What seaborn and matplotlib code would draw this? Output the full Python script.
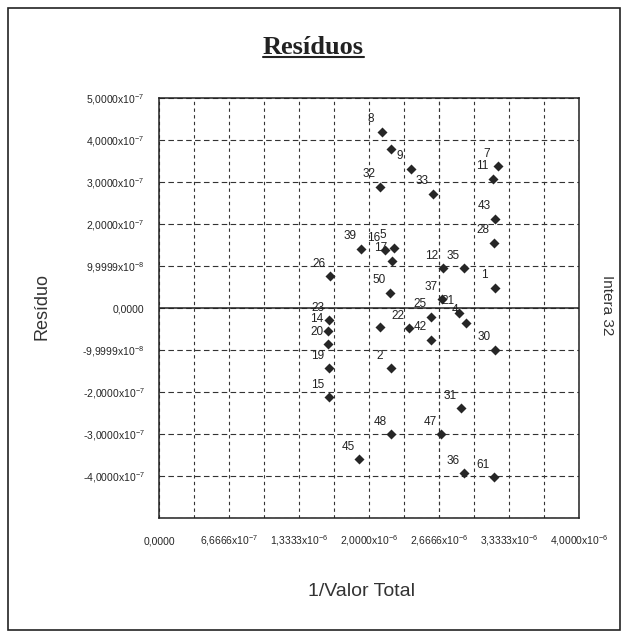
import numpy as np
import pandas as pd
import seaborn as sns
import matplotlib.pyplot as plt
from matplotlib.lines import Line2D
from matplotlib.patches import Rectangle

# point labels, 1/valor total and residual
labels = ["8", "", "9", "32", "33", "7", "11", "43", "28", "39", "16", "5", "17",
          "12", "35", "26", "1", "50", "37", "23", "14", "20", "19", "15", "",
          "22", "25", "21", "4", "42", "30", "2", "31", "48", "47", "45", "36", "61"]
inv_total = [2.124e-6, 2.210e-6, 2.400e-6, 2.105e-6, 2.610e-6, 3.230e-6, 3.180e-6,
             3.200e-6, 3.190e-6, 1.924e-6, 2.148e-6, 2.238e-6, 2.219e-6,
             2.705e-6, 2.905e-6, 1.629e-6, 3.200e-6, 2.200e-6, 2.695e-6,
             1.619e-6, 1.610e-6, 1.610e-6, 1.619e-6, 1.619e-6, 2.105e-6,
             2.381e-6, 2.590e-6, 2.857e-6, 2.924e-6, 2.590e-6, 3.200e-6,
             2.210e-6, 2.876e-6, 2.210e-6, 2.686e-6, 1.905e-6, 2.905e-6, 3.190e-6]
residuals = [4.20e-7, 3.79e-7, 3.32e-7, 2.89e-7, 2.72e-7, 3.37e-7, 3.08e-7,
             2.12e-7, 1.55e-7, 1.41e-7, 1.38e-7, 1.43e-7, 1.12e-7,
             9.5e-8, 9.5e-8, 7.6e-8, 4.8e-8, 3.6e-8, 2.1e-8,
             -2.9e-8, -5.5e-8, -8.6e-8, -1.43e-7, -2.12e-7, -4.5e-8,
             -4.8e-8, -2.1e-8, -1.2e-8, -3.5e-8, -7.6e-8, -1.00e-7,
             -1.43e-7, -2.39e-7, -3.01e-7, -3.01e-7, -3.60e-7, -3.94e-7, -4.03e-7]

x_ticks = [0, 6.6666e-7, 1.3333e-6, 2.0e-6, 2.6666e-6, 3.3333e-6, 4.0e-6]
x_ticklabels = ["0,0000", "6,6666x$10^{-7}$", "1,3333x$10^{-6}$", "2,0000x$10^{-6}$",
                "2,6666x$10^{-6}$", "3,3333x$10^{-6}$", "4,0000x$10^{-6}$"]
y_ticks = [-5e-7, -4e-7, -3e-7, -2e-7, -1e-7, 0, 1e-7, 2e-7, 3e-7, 4e-7, 5e-7]
y_ticklabels = ["", "-4,0000x$10^{-7}$", "-3,0000x$10^{-7}$", "-2,0000x$10^{-7}$",
                "-9,9999x$10^{-8}$", "0,0000", "9,9999x$10^{-8}$", "2,0000x$10^{-7}$",
                "3,0000x$10^{-7}$", "4,0000x$10^{-7}$", "5,0000x$10^{-7}$"]

sns.set_style("white")
plt.rcParams['font.family'] = ['Liberation Sans', 'DejaVu Sans']
plt.rcParams['mathtext.default'] = 'regular'

W, H = 626, 637
fig = plt.figure(figsize=(W / 100, H / 100), dpi=100)
fig.patch.set_facecolor("white")
ax = fig.add_axes([159 / W, 1 - 518 / H, 420 / W, 420 / H])

df = pd.DataFrame({"x": inv_total, "y": residuals, "label": labels})
sns.scatterplot(data=df, x="x", y="y", marker="D", s=26, color="#262626",
                linewidth=0, ax=ax, zorder=3, legend=False)
for _, r in df.iterrows():
    if r["label"]:
        ax.annotate(r["label"], (r["x"], r["y"]), xytext=(-8, 9),
                    textcoords="offset points", ha="center", va="center",
                    fontsize=8.5, color="#222222")

ax.set_xlim(0, 4e-6)
ax.set_ylim(-5e-7, 5e-7)
ax.set_xticks(x_ticks)
ax.set_xticklabels(x_ticklabels, fontsize=7.5)
for t in ax.get_xticklabels():
    t.set_verticalalignment("baseline")
ax.set_xticks(np.linspace(0, 4e-6, 13), minor=True)
ax.set_yticks(y_ticks)
ax.set_yticklabels(y_ticklabels, fontsize=7.5)
ax.tick_params(axis="x", which="major", direction="inout", length=6, width=1, pad=16)
ax.tick_params(axis="x", which="minor", length=0)
ax.tick_params(axis="y", direction="inout", length=3, width=0.8, pad=9)
ax.grid(True, which="both", axis="x", color="#333333", linestyle=(0, (3, 3)), linewidth=0.8)
ax.grid(True, which="major", axis="y", color="#333333", linestyle=(0, (5, 3)), linewidth=0.8)
ax.axhline(0, color="#222222", linewidth=1.1, zorder=2)
for s in ax.spines.values():
    s.set_color("#222222")
    s.set_linewidth(1.1)
ax.set_xlabel("")
ax.set_ylabel("")

fig.text(361 / W, 1 - 592 / H, "1/Valor Total", ha="center", va="center",
         fontsize=14, color="#333333")
fig.text(42 / W, 1 - 307 / H, "Resíduo", ha="center", va="center", rotation=90,
         fontsize=13, color="#333333")
fig.text(607 / W, 1 - 305 / H, "Intera 32", ha="center", va="center", rotation=-90,
         fontsize=11, color="#333333")

title = fig.text(0.5, 1 - 47 / H, "Resíduos", ha="center", va="center",
                 fontsize=19, fontweight="bold", family=["Liberation Serif"],
                 color="#222222")
fig.canvas.draw()
bb = title.get_window_extent().transformed(fig.transFigure.inverted())
fig.add_artist(Line2D([bb.x0, bb.x1], [bb.y0 + 0.002, bb.y0 + 0.002],
                      transform=fig.transFigure, color="#222222", linewidth=1.5))

fig.add_artist(Rectangle((8 / W, 1 - 630 / H), 612 / W, 622 / H, fill=False,
                         transform=fig.transFigure, edgecolor="#222222", linewidth=1.2))

fig.savefig("out.png", dpi=100)
